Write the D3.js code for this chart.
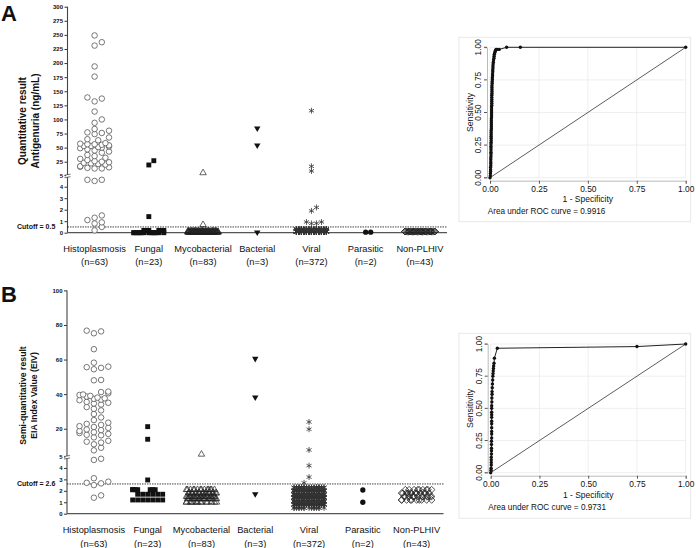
<!DOCTYPE html>
<html><head><meta charset="utf-8">
<script src="https://cdn.jsdelivr.net/npm/d3@7"></script>
<style>body{margin:0;background:#fff}svg{display:block;font-family:"Liberation Sans",Arial,sans-serif}</style>
</head><body><svg id="c" width="696" height="548"></svg>
<script>
// ---------------- DATA ----------------
const categories = ["Histoplasmosis","Fungal","Mycobacterial","Bacterial","Viral","Parasitic","Non-PLHIV"];
const groupSizes = ["(n=63)","(n=23)","(n=83)","(n=3)","(n=372)","(n=2)","(n=43)"];

const ticksAUpper = [25,50,75,100,125,150,175,200,225,250,275,300];
const ticksALower = [0,1,2,3,4,5];
const ticksBUpper = [20,40,60,80,100];
const ticksBLower = [0,1,2,3,4,5];
const cutoffA = 0.5, cutoffB = 2.6;

// Panel A – quantitative antigenuria (ng/mL); individual points
const histoA = [249,237,231,194,176,139,137,132,114,100,94,83,80,77,76,74,68,65,63,58,57,56,56,55,54,53,53,52,51,50,49,47,45,43,41,37,35,32,30,28,26,25,24,23,22,21,20,17,16,15,14,13,13,4.6,4.5,4.6,1.5,1.3,1.1,0.9,0.8,0.5,0.2];
const fungalA = [26.8,19.2,1.4];
const mycoA = [5.2,0.7];
const bactA = [84.3,54.1,0.03];
const viralA = [115.5,16.8,8.5,2.2,1.9,0.93,0.82,0.8,0.93];
const parasA = [0.05,0.05];
const nonA = [];
// dense clusters near zero: [value, count]
const fungalALow = [[0.2,6],[0.0,14]];
const mycoALow = [[0.15,20],[0.05,61]];
const viralALow = [[0.3,60],[0.1,303]];
const nonALow = [[0.1,43]];

// Panel B – semi-quantitative EIA Index Value
const histoB = [76.7,75.2,76.3,66,58.2,55.6,54.4,55.2,55.9,48.2,48.0,41.5,41.2,40.5,39.8,39.5,39.0,38.6,38.0,37.6,37.3,36.8,36.5,35.5,35.0,34.6,34.0,32.5,31.5,30.6,28.5,26.5,25.0,23.5,22.8,22.2,21.5,21.0,20.5,19.6,19.2,18.7,18.0,17.5,17.0,16.5,16.2,15.0,13.0,12.5,12.0,11.0,9.0,7.5,4.7,4.8,3.1,2.8,2.7,2.65,2.5,1.6,1.4];
const fungalB = [21.2,13.9,2.95];
const mycoB = [5.2];
const bactB = [60.5,38.2,1.72];
const viralB = [23.9,19.7,7.7,4.2,3.2,2.7];
const parasB = [2.07,1.0];
const nonB = [];
const fungalBLow = [[2.1,7],[1.7,6],[1.2,7]];
const mycoBLow = [[2.1,14],[1.8,18],[1.5,18],[1.3,18],[1.0,14]];
const viralBLow = [[2.3,30],[2.0,60],[1.7,70],[1.4,70],[1.1,70],[0.8,50],[0.5,16]];
const nonBLow = [[2.1,9],[1.8,12],[1.5,12],[1.2,10]];

// ROC curves [1-specificity, sensitivity]
const rocA = [[0,0],[0.002,0.015],[0.002,0.032],[0.003,0.047],[0.003,0.061],[0.003,0.078],[0.004,0.092],[0.004,0.108],[0.004,0.121],[0.004,0.137],[0.004,0.152],[0.005,0.166],[0.005,0.183],[0.005,0.196],[0.005,0.212],[0.005,0.227],[0.005,0.241],[0.005,0.258],[0.006,0.271],[0.006,0.286],[0.006,0.302],[0.006,0.317],[0.006,0.331],[0.006,0.347],[0.006,0.362],[0.007,0.376],[0.007,0.391],[0.007,0.407],[0.007,0.421],[0.007,0.436],[0.007,0.452],[0.008,0.466],[0.008,0.481],[0.008,0.497],[0.008,0.511],[0.008,0.526],[0.008,0.542],[0.009,0.556],[0.009,0.571],[0.009,0.587],[0.009,0.601],[0.009,0.616],[0.009,0.632],[0.010,0.646],[0.010,0.661],[0.010,0.677],[0.010,0.691],[0.010,0.706],[0.011,0.722],[0.011,0.736],[0.012,0.751],[0.012,0.767],[0.013,0.781],[0.013,0.796],[0.014,0.812],[0.014,0.826],[0.015,0.841],[0.015,0.857],[0.016,0.871],[0.017,0.886],[0.018,0.902],[0.020,0.916],[0.021,0.931],[0.022,0.946],[0.024,0.956],[0.026,0.966],[0.028,0.975],[0.031,0.984],[0.036,0.984],[0.047,0.984],[0.085,1],[0.155,1],[1,1]];
const rocB = [[0,0],[0.002,0.02],[0.002,0.035],[0.003,0.06],[0.003,0.08],[0.003,0.1],[0.003,0.12],[0.004,0.145],[0.004,0.17],[0.004,0.19],[0.004,0.22],[0.004,0.245],[0.005,0.27],[0.005,0.3],[0.005,0.32],[0.005,0.35],[0.005,0.38],[0.005,0.4],[0.005,0.43],[0.005,0.45],[0.005,0.47],[0.005,0.5],[0.005,0.52],[0.006,0.55],[0.006,0.58],[0.007,0.61],[0.007,0.63],[0.008,0.66],[0.009,0.69],[0.010,0.72],[0.011,0.75],[0.012,0.77],[0.013,0.79],[0.014,0.81],[0.015,0.83],[0.017,0.85],[0.019,0.89],[0.034,0.967],[0.75,0.98],[1,1]];
const aucA = "0.9916", aucB = "0.9731";
const rocTicks = [0,0.25,0.5,0.75,1];

// ---------------- DRAWING ----------------
const svg = d3.select("#c");

const expand = (pts, low) => pts.concat(low.flatMap(([v,n]) => d3.range(n).map(() => v)));

const diamond = {draw(ctx, size){const r=Math.sqrt(size/2); ctx.moveTo(0,-r); ctx.lineTo(r,0); ctx.lineTo(0,r); ctx.lineTo(-r,0); ctx.closePath();}};
const triDown = {draw(ctx, size){const y=-Math.sqrt(size/(Math.sqrt(3)*3)); ctx.moveTo(0,-2*y); ctx.lineTo(-Math.sqrt(3)*y,y); ctx.lineTo(Math.sqrt(3)*y,y); ctx.closePath();}};
const styles = [
  {type:d3.symbolCircle, size:24, fill:"#fff", stroke:"#555", sw:0.8},
  {type:d3.symbolSquare, size:24, fill:"#111", stroke:"none", sw:0},
  {type:d3.symbolTriangle, size:18, fill:"none", stroke:"#222", sw:0.7},
  {type:triDown, size:18, fill:"#111", stroke:"none", sw:0},
  {type:d3.symbolAsterisk, size:24, fill:"none", stroke:"#333", sw:0.8},
  {type:d3.symbolCircle, size:22, fill:"#111", stroke:"none", sw:0},
  {type:diamond, size:22, fill:"none", stroke:"#222", sw:0.8}
];
const spacing = [7.2,5,5,5,5,5,5];
const maxCols = [5,7,7,7,7,7,7];
const overflowDiv = [2,2,5,2,2,2,4];

function layout(values, yFn, s, cols, vsize, div){
  const pts = values.map(v => ({v, y:yFn(v)})).sort((a,b) => a.v - b.v);
  const cands=[0];
  for(let k=1; cands.length<cols; k++){ cands.push(k*s); if(cands.length<cols) cands.push(-k*s); }
  const half = (cols-1)/2*s;
  const overflow=[]; const st=s/div; const n=Math.round(2*half/st)+1;
  for(let k=0; k<n; k++) overflow.push(-half + ((k*7) % n)*st);
  const placed=[]; let cyc=0;
  pts.forEach(p => {
    let dx=null;
    for(const c of cands){
      if(!placed.some(q => Math.abs(q.dx-c) < s*0.9 && Math.abs(q.y-p.y) < vsize)){ dx=c; break; }
    }
    if(dx===null){ dx=overflow[cyc % overflow.length]; cyc++; }
    p.dx=dx; placed.push(p);
  });
  return pts;
}

function panel(cfg){
  const g = svg.append("g");
  const x = d3.scalePoint().domain(categories).range([cfg.axisX, cfg.xEnd]).padding(0.5);
  const lower = d3.scaleLinear().domain([0,5]).range(cfg.lowerR);
  const upper = d3.scaleLinear().domain(cfg.upperD).range(cfg.upperR);
  const y = v => v <= 5 ? lower(v) : upper(v);

  const fmtAxis = a => { a.select(".domain").remove(); a.selectAll("text").attr("font-size",6).attr("font-weight","bold").attr("fill","#111"); a.selectAll("line").attr("stroke","#333"); };
  g.append("g").attr("transform",`translate(${cfg.axisX},0)`).call(d3.axisLeft(upper).tickValues(cfg.upperTicks).tickFormat(d3.format("d")).tickSize(3).tickPadding(1.5)).call(fmtAxis);
  g.append("g").attr("transform",`translate(${cfg.axisX},0)`).call(d3.axisLeft(lower).tickValues(cfg.lowerTicks).tickFormat(d3.format("d")).tickSize(3).tickPadding(1.5)).call(fmtAxis);
  g.append("line").attr("x1",cfg.axisX).attr("x2",cfg.axisX).attr("y1",upper(cfg.upperD[1])).attr("y2",lower(0)).attr("stroke","#444").attr("stroke-width",1.1);
  g.append("line").attr("x1",cfg.axisX).attr("x2",cfg.xEnd).attr("y1",lower(0)).attr("y2",lower(0)).attr("stroke","#555").attr("stroke-width",1.3);
  const by = lower(5);
  g.append("rect").attr("x",cfg.axisX-1.5).attr("y",by-0.5).attr("width",3).attr("height",2.5).attr("fill","#fff");
  g.append("line").attr("x1",cfg.axisX-3).attr("x2",cfg.axisX+3).attr("y1",by).attr("y2",by-1).attr("stroke","#333").attr("stroke-width",0.7);
  g.append("line").attr("x1",cfg.axisX-3).attr("x2",cfg.axisX+3).attr("y1",by+2.5).attr("y2",by+1.5).attr("stroke","#333").attr("stroke-width",0.7);

  g.append("line").attr("x1",cfg.axisX).attr("x2",cfg.xEnd).attr("y1",lower(cfg.cutoff)).attr("y2",lower(cfg.cutoff))
    .attr("stroke","#111").attr("stroke-width",0.8).attr("stroke-dasharray","1.5,1");
  g.append("text").attr("x",17).attr("y",lower(cfg.cutoff)+2.5).attr("font-size",7).attr("font-weight","bold").attr("fill","#111").text("Cutoff = "+cfg.cutoff);

  cfg.groups.forEach((vals,i) => {
    const st = styles[i];
    const pts = layout(vals, y, spacing[i], maxCols[i], 4.6, overflowDiv[i]);
    const sym = d3.symbol().type(st.type).size(st.size);
    g.append("g").selectAll("path").data(pts).join("path")
      .attr("d", sym)
      .attr("transform", p => `translate(${x(categories[i])+p.dx},${p.y})`)
      .attr("fill", st.fill).attr("stroke", st.stroke).attr("stroke-width", st.sw);
  });

  categories.forEach((c,i) => {
    g.append("text").attr("x",x(c)).attr("y",cfg.labY).attr("text-anchor","middle").attr("font-size",9.3).attr("fill","#111").text(c);
    g.append("text").attr("x",x(c)).attr("y",cfg.labY+13.5).attr("text-anchor","middle").attr("font-size",9.3).attr("fill","#111").text(groupSizes[i]);
  });

  cfg.titles.forEach((t,k) => {
    g.append("text").attr("transform",`translate(${cfg.titleX[k]},${cfg.titleY}) rotate(-90)`).attr("dy","0.35em")
      .attr("text-anchor","middle").attr("font-size",cfg.titleSize).attr("font-weight","bold").attr("fill","#111").text(t);
  });
  g.append("text").attr("x",1).attr("y",cfg.letterY).attr("font-size",22).attr("font-weight","bold").attr("fill","#111").text(cfg.letter);
}

panel({
  letter:"A", letterY:20.5, axisX:67.5, xEnd:447, lowerR:[232.7,175.2], upperD:[0,300], upperR:[175.8,6.7],
  upperTicks:ticksAUpper, lowerTicks:ticksALower, cutoff:cutoffA, labY:251.5,
  titles:["Quantitative result","Antigenuria (ng/mL)"], titleX:[22.5,35], titleY:121, titleSize:10,
  groups:[histoA, expand(fungalA,fungalALow), expand(mycoA,mycoALow), bactA, expand(viralA,viralALow), parasA, expand(nonA,nonALow)]
});
panel({
  letter:"B", letterY:302, axisX:67, xEnd:443.5, lowerR:[513.7,456.5], upperD:[0,100], upperR:[463.3,290.4],
  upperTicks:ticksBUpper, lowerTicks:ticksBLower, cutoff:cutoffB, labY:533,
  titles:["Semi-quantitative result","EIA Index Value (EIV)"], titleX:[22.5,34], titleY:395.5, titleSize:8.7,
  groups:[histoB, expand(fungalB,fungalBLow), expand(mycoB,mycoBLow), bactB, expand(viralB,viralBLow), parasB, expand(nonB,nonBLow)]
});

function rocPanel(cfg){
  const g = svg.append("g");
  g.append("rect").attr("x",cfg.fx).attr("y",cfg.fy).attr("width",cfg.fw).attr("height",cfg.fh).attr("fill","#fff").attr("stroke","#e8e8e8").attr("stroke-width",1);
  const x = d3.scaleLinear().domain([0,1]).range(cfg.xr);
  const y = d3.scaleLinear().domain([0,1]).range(cfg.yr);
  g.append("g").selectAll("line").data(rocTicks).join("line")
    .attr("x1",cfg.xr[0]).attr("x2",cfg.xr[1]).attr("y1",d=>y(d)).attr("y2",d=>y(d)).attr("stroke","#ebebeb").attr("stroke-width",0.8);
  g.append("g").selectAll("line").data(rocTicks).join("line")
    .attr("y1",cfg.yr[0]).attr("y2",cfg.yr[1]).attr("x1",d=>x(d)).attr("x2",d=>x(d)).attr("stroke","#ebebeb").attr("stroke-width",0.8);
  const ax = g.append("g").attr("transform",`translate(0,${cfg.yr[0]+3})`).call(d3.axisBottom(x).tickValues(rocTicks).tickFormat(d3.format(".2f")).tickSize(3).tickPadding(2));
  ax.select(".domain").attr("stroke","#bbb"); ax.selectAll("line").attr("stroke","#555");
  ax.selectAll("text").attr("font-size",8.4).attr("fill","#111");
  const ay = g.append("g").attr("transform",`translate(${cfg.xr[0]-3},0)`).call(d3.axisLeft(y).tickValues(rocTicks).tickFormat(d3.format(".2f")).tickSize(3).tickPadding(2));
  ay.select(".domain").attr("stroke","#bbb"); ay.selectAll("line").attr("stroke","#555");
  ay.selectAll(".tick").attr("transform","translate(0,0)");
  ay.selectAll(".tick line").attr("transform",d=>`translate(0,${y(d)})`);
  ay.selectAll(".tick text").attr("font-size",8.4).attr("fill","#111").attr("text-anchor","middle").attr("x",0).attr("dy",0)
    .attr("y",-6).attr("transform",d=>`translate(0,${y(d)}) rotate(-90)`);
  g.append("line").attr("x1",x(0)).attr("y1",y(0)).attr("x2",x(1)).attr("y2",y(1)).attr("stroke","#333").attr("stroke-width",0.8);
  g.append("path").datum(cfg.pts).attr("d",d3.line().x(d=>x(d[0])).y(d=>y(d[1]))).attr("fill","none").attr("stroke","#222").attr("stroke-width",1);
  g.append("g").selectAll("circle").data(cfg.pts).join("circle").attr("cx",d=>x(d[0])).attr("cy",d=>y(d[1])).attr("r",1.7).attr("fill","#111");
  g.append("text").attr("x",(cfg.xr[0]+cfg.xr[1])/2).attr("y",cfg.specY).attr("text-anchor","middle").attr("font-size",8.5).attr("fill","#111").text("1 - Specificity");
  g.append("text").attr("transform",`translate(${cfg.sensX},${(cfg.yr[0]+cfg.yr[1])/2}) rotate(-90)`).attr("text-anchor","middle").attr("font-size",8.7).attr("fill","#111").text("Sensitivity");
  g.append("text").attr("x",cfg.aucX).attr("y",cfg.aucY).attr("font-size",8.2).attr("fill","#111").text("Area under ROC curve = "+cfg.auc);
}
rocPanel({fx:459,fy:37.3,fw:231.7,fh:184.4,xr:[490,685.7],yr:[177.7,47.3],pts:rocA,auc:aucA,specY:202,sensX:472.5,aucX:487.7,aucY:213.7});
rocPanel({fx:459,fy:333.3,fw:231.7,fh:185,xr:[490.7,685.7],yr:[472.7,344],pts:rocB,auc:aucB,specY:498,sensX:473,aucX:488.3,aucY:510});
</script></body></html>
